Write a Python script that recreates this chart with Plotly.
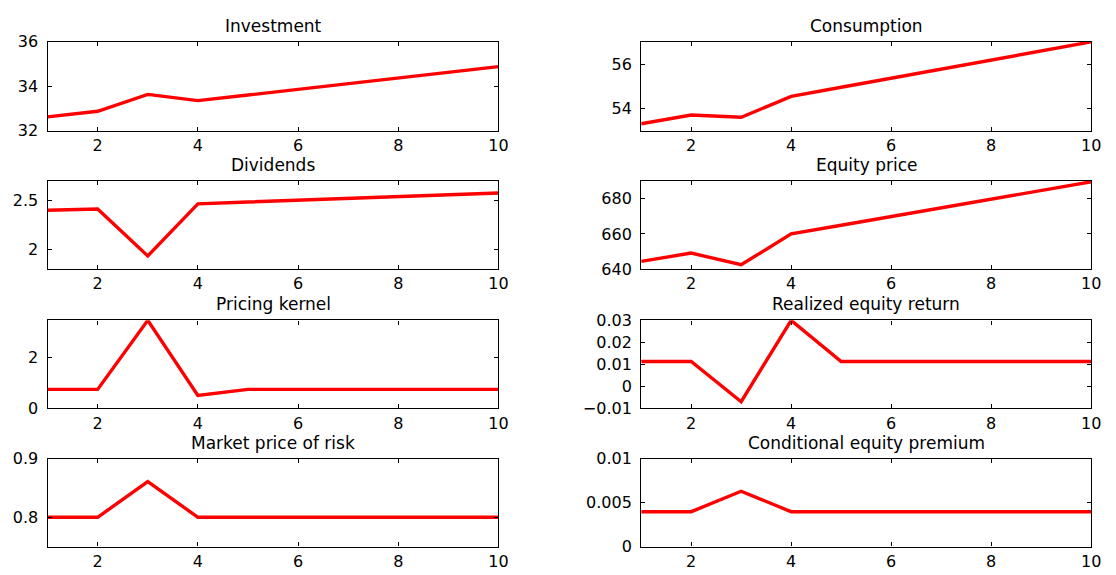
import plotly.graph_objects as go

periods = [1, 2, 3, 4, 5, 6, 7, 8, 9, 10]

investment = [32.63, 32.88, 33.64, 33.36, 33.61, 33.87, 34.13, 34.39, 34.64, 34.89]
consumption = [53.32, 53.71, 53.61, 54.55, 54.96, 55.37, 55.78, 56.18, 56.59, 57.0]
dividends = [2.402, 2.415, 1.935, 2.467, 2.486, 2.504, 2.523, 2.541, 2.560, 2.578]
equity_price = [644.4, 649.1, 642.5, 660.0, 664.9, 669.8, 674.7, 679.7, 684.6, 689.6]
pricing_kernel = [0.747, 0.747, 3.47, 0.506, 0.747, 0.747, 0.747, 0.747, 0.747, 0.747]
realized_return = [0.0113, 0.0113, -0.0070, 0.0300, 0.0113, 0.0113, 0.0113, 0.0113, 0.0113, 0.0113]
market_price_risk = [0.80, 0.80, 0.861, 0.80, 0.80, 0.80, 0.80, 0.80, 0.80, 0.80]
cond_premium = [0.00397, 0.00397, 0.00629, 0.00397, 0.00397, 0.00397, 0.00397, 0.00397, 0.00397, 0.00397]

titles = ["Investment", "Consumption", "Dividends", "Equity price",
          "Pricing kernel", "Realized equity return",
          "Market price of risk", "Conditional equity premium"]
series = [investment, consumption, dividends, equity_price,
          pricing_kernel, realized_return, market_price_risk, cond_premium]
y_ranges = [[32, 36], [53, 57], [1.8, 2.7], [640, 690],
            [0, 3.47], [-0.01, 0.03], [0.75, 0.9], [0, 0.01]]
y_tickvals = [[32, 34, 36], [54, 56], [2, 2.5], [640, 660, 680],
              [0, 2], [-0.01, 0, 0.01, 0.02, 0.03], [0.8, 0.9], [0, 0.005, 0.01]]
y_ticktext = [["32", "34", "36"], ["54", "56"], ["2", "2.5"], ["640", "660", "680"],
              ["0", "2"], ["\u22120.01", "0", "0.01", "0.02", "0.03"], ["0.8", "0.9"],
              ["0", "0.005", "0.01"]]
x_tickvals = [2, 4, 6, 8, 10]

W, H = 1116, 575
col_px = [(48, 503), (647, 1101)]
row_px = [(34, 126), (178, 269), (322, 413), (465, 556)]

FONT = "DejaVu Sans, Liberation Sans, Arial, sans-serif"

fig = go.Figure()
annotations = []
layout_axes = {}
for i in range(8):
    r, c = divmod(i, 2)
    n = i + 1
    xa = "x" if n == 1 else f"x{n}"
    ya = "y" if n == 1 else f"y{n}"
    xkey = "xaxis" if n == 1 else f"xaxis{n}"
    ykey = "yaxis" if n == 1 else f"yaxis{n}"
    x0, x1 = col_px[c]
    top, bot = row_px[r]
    xd = [x0 / W, x1 / W]
    yd = [1 - bot / H, 1 - top / H]
    fig.add_trace(go.Scatter(x=periods, y=series[i], mode="lines",
                             line=dict(color="#ff0000", width=3.4),
                             xaxis=xa, yaxis=ya, showlegend=False,
                             hoverinfo="skip"))
    common = dict(showline=True, linecolor="black", linewidth=1.3, mirror="ticks",
                  ticks="inside", ticklen=4, tickcolor="black", tickwidth=1,
                  showgrid=False, zeroline=False,
                  tickfont=dict(family=FONT, size=16, color="black"))
    layout_axes[xkey] = dict(domain=xd, range=[1, 10], tickvals=x_tickvals,
                             anchor=ya, ticklabelstandoff=0, **common)
    layout_axes[ykey] = dict(domain=yd, range=y_ranges[i], tickvals=y_tickvals[i],
                             ticktext=y_ticktext[i], anchor=xa,
                             ticklabelstandoff=5, **common)
    annotations.append(dict(text=titles[i], x=(xd[0] + xd[1]) / 2, y=yd[1],
                            xref="paper", yref="paper", xanchor="center",
                            yanchor="middle", yshift=16, showarrow=False,
                            font=dict(family=FONT, size=17, color="black")))

fig.update_layout(width=W, height=H, margin=dict(l=0, r=0, t=0, b=0),
                  paper_bgcolor="white", plot_bgcolor="white",
                  annotations=annotations, **layout_axes)
fig.write_html("out.html")
